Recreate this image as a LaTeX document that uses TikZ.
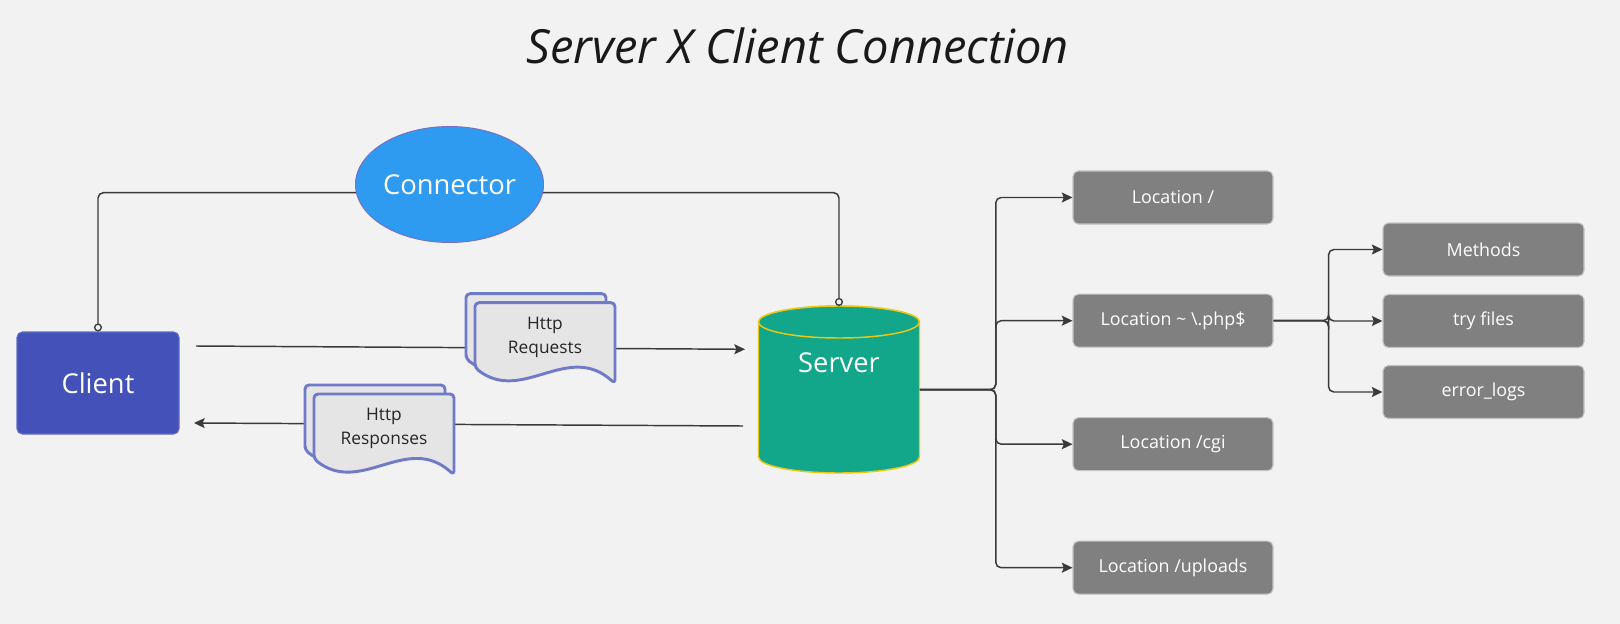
\documentclass[tikz,border=0pt]{standalone}
\usepackage{fontspec}
\setmainfont{Open Sans}
\usetikzlibrary{arrows.meta,shapes.geometric}

\definecolor{bgcol}{RGB}{242,242,242}
\definecolor{linecol}{RGB}{58,58,58}
\definecolor{clientcol}{RGB}{68,81,185}
\definecolor{conncol}{RGB}{46,155,240}
\definecolor{connedge}{RGB}{120,110,196}
\definecolor{srvcol}{RGB}{18,166,138}
\definecolor{srvedge}{RGB}{236,200,20}
\definecolor{loccol}{RGB}{128,128,128}
\definecolor{locedge}{RGB}{196,196,196}
\definecolor{docedge}{RGB}{111,122,200}
\definecolor{docfill}{RGB}{229,229,229}

\tikzset{
  docsheet/.style={draw=docedge,line width=2.2pt,fill=docfill,rounded corners=3pt,line join=round},
  docstack/.pic={
    %back sheet
    \draw[docsheet] (-9,-56) -- (-9,9) -- (131,9) -- (131,-72) .. controls (84,-29) and (38,-93) .. (-9,-56) -- cycle ;
    %front sheet
    \draw[docsheet] (0,-65) -- (0,0) -- (140,0) -- (140,-81) .. controls (93,-38) and (47,-102) .. (0,-65) -- cycle ;
  }
}

\begin{document}
\begin{tikzpicture}[x=0.75pt,y=0.75pt,yscale=-1,xscale=1,
  line/.style={draw=linecol,line width=1.1pt},
  tip/.style={-{Stealth[length=8pt,width=7.5pt,inset=1.5pt]}},
  ring/.style={-{Circle[open,length=6pt,width=6pt,line width=1pt]}},
  bigtext/.style={text=white,font=\fontsize{20.5}{24}\selectfont},
  clientbox/.style={bigtext,fill=clientcol,draw=clientcol!85!white,line width=0.8pt,rounded corners=4pt,minimum width=121.5pt,minimum height=76.5pt,inner sep=0pt},
  connellipse/.style={bigtext,ellipse,fill=conncol,draw=connedge,line width=0.7pt,minimum width=141pt,minimum height=87pt,inner sep=0pt},
  locbox/.style={fill=loccol,draw=locedge,line width=0.8pt,rounded corners=4pt,text=white,font=\fontsize{13.4}{16}\selectfont,minimum width=150pt,minimum height=39.75pt,inner sep=0pt},
  doctext/.style={align=center,text=black!85,font=\fontsize{13}{18}\selectfont,inner sep=0pt},
  srvbody/.style={fill=srvcol,draw=srvedge,line width=1.1pt}
]
%background and frame
\fill[bgcol] (0,0) rectangle (1620,624);
\useasboundingbox (0,0) rectangle (1620,624);

% Text Node
\node[anchor=base,font=\fontsize{35.3}{40}\selectfont\itshape,text=black!90] (title) at (798,63.3) {Server X Client Connection};

%Shape: Rectangle
\node[clientbox] (client) at (98,383) {Client};
%Shape: Ellipse
\node[connellipse] (connector) at (449.5,184.5) {Connector};

%Shape: Can
\draw[srvbody] (758.5,322) -- (758.5,457) arc[start angle=180,end angle=0,x radius=80.5,y radius=16] -- (919.5,322) arc[start angle=0,end angle=-180,x radius=80.5,y radius=16] -- cycle ;
\draw[srvbody] (839,322) ellipse [x radius=80.5,y radius=16] ;
\node[minimum width=120.75pt,minimum height=125.25pt,inner sep=0pt] (server) at (839,389.7) {};
% Text Node
\node[bigtext] (srvtext) at (839,363) {Server};

%Connector lines
\draw[line,ring,rounded corners=4pt] (connector.185) -| (client.north) ;
\draw[line,ring,rounded corners=4pt] (connector.355) -| (server.north) ;

%Straight Lines
\coordinate (reqstart) at (196,346) ;
\coordinate (reqend) at (745,349.3) ;
\draw[line,tip] (reqstart) -- (reqend) ;
\coordinate (resstart) at (743,426) ;
\coordinate (resend) at (194,423) ;
\draw[line,tip] (resstart) -- (resend) ;

%Shape: Multi document
\pic at (475,302.7) {docstack} ;
\node[doctext] (reqtext) at (545,337) {Http\\Requests} ;
\pic at (314,394) {docstack} ;
\node[doctext] (restext) at (384,428) {Http\\Responses} ;

%Shape: Rectangle
\node[locbox] (loc1) at (1173,197.5) {Location /};
\node[locbox] (loc2) at (1173,320.7) {Location \textasciitilde{} \textbackslash.php\$};
\node[locbox] (loc3) at (1173,444.2) {Location /cgi};
\node[locbox] (loc4) at (1173,567.7) {Location /uploads};

\node[locbox,minimum width=150.75pt] (methods) at (1483.5,249.5) {Methods};
\node[locbox,minimum width=150.75pt] (tryfiles) at (1483.5,321) {try files};
\node[locbox,minimum width=150.75pt] (errlogs) at (1483.5,392) {error\_logs};

%Branch Lines
\foreach \t in {loc1,loc2,loc3,loc4}
  \draw[line,tip,rounded corners=4pt] (server.east) -- ++(76,0) |- (\t.west) ;
\foreach \t in {methods,tryfiles,errlogs}
  \draw[line,tip,rounded corners=4pt] (loc2.east) -- ++(55,0) |- (\t.west) ;

\end{tikzpicture}
\end{document}
